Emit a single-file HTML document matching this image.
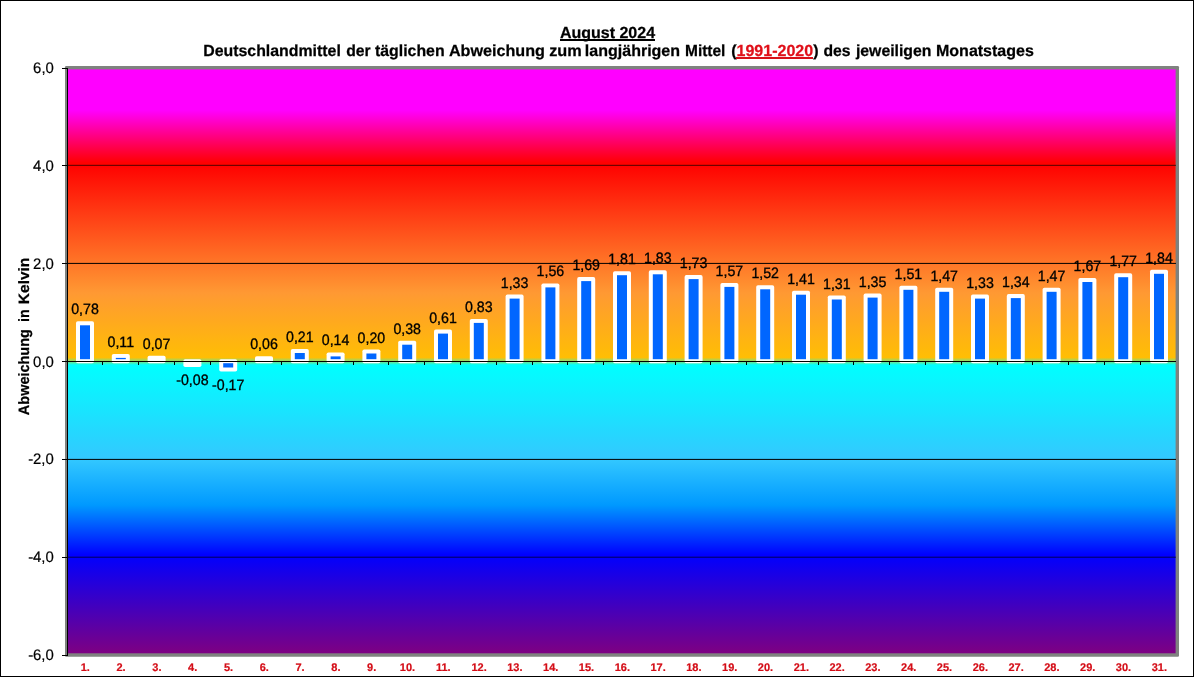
<!DOCTYPE html>
<html lang="de"><head><meta charset="utf-8"><title>August 2024</title>
<style>html,body{margin:0;padding:0;background:#fff;overflow:hidden}svg{display:block;font-family:"Liberation Sans",Arial,sans-serif;text-rendering:geometricPrecision}</style>
</head><body>
<svg width="1194" height="677" viewBox="0 0 1194 677">
<defs><linearGradient id="bg" gradientUnits="userSpaceOnUse" x1="0" y1="68" x2="0" y2="655">
<stop offset="0.0000" stop-color="#ff00ff"/>
<stop offset="0.0716" stop-color="#ff00ff"/>
<stop offset="0.1618" stop-color="#ff0000"/>
<stop offset="0.3833" stop-color="#ff9933"/>
<stop offset="0.4932" stop-color="#ffbe04"/>
<stop offset="0.5000" stop-color="#80e080"/>
<stop offset="0.5060" stop-color="#00ffff"/>
<stop offset="0.6661" stop-color="#33c8ff"/>
<stop offset="0.7445" stop-color="#0099ff"/>
<stop offset="0.8296" stop-color="#0000ff"/>
<stop offset="1.0000" stop-color="#800080"/>
</linearGradient></defs>
<rect x="0" y="0" width="1194" height="677" fill="#fff"/>
<rect x="65" y="66" width="1114" height="590.7" rx="1.2" fill="#7f827f"/>
<rect x="67" y="69.4" width="1108.6" height="583.9" fill="url(#bg)"/>
<rect x="68" y="165" width="1108" height="1" fill="#000" fill-opacity="0.56"/>
<rect x="68" y="164" width="1108" height="1" fill="#000" fill-opacity="0.12"/>
<rect x="68" y="263" width="1108" height="1" fill="#000" fill-opacity="0.9"/>
<rect x="68" y="262" width="1108" height="1" fill="#000" fill-opacity="0.1"/>
<rect x="68" y="459" width="1108" height="1" fill="#000" fill-opacity="0.9"/>
<rect x="68" y="458" width="1108" height="1" fill="#000" fill-opacity="0.1"/>
<rect x="68" y="557" width="1108" height="1" fill="#000" fill-opacity="0.45"/>
<rect x="68" y="556" width="1108" height="1" fill="#000" fill-opacity="0.2"/>
<rect x="76.0" y="321.3" width="18" height="41.9" rx="1.8" fill="#fff"/>
<rect x="80.0" y="325.3" width="10" height="33.9" fill="#0066ff"/>
<rect x="111.8" y="353.9" width="18" height="9.3" rx="1.8" fill="#fff"/>
<rect x="115.8" y="357.9" width="10" height="1.3" fill="#0066ff"/>
<rect x="147.6" y="355.8" width="18" height="7.4" rx="1.8" fill="#fff"/>
<rect x="183.4" y="359.2" width="18" height="7.9" rx="1.8" fill="#fff"/>
<rect x="219.2" y="359.2" width="18" height="12.3" rx="1.8" fill="#fff"/>
<rect x="223.2" y="363.2" width="10" height="4.3" fill="#0066ff"/>
<rect x="255.0" y="356.3" width="18" height="6.9" rx="1.8" fill="#fff"/>
<rect x="290.8" y="349.0" width="18" height="14.2" rx="1.8" fill="#fff"/>
<rect x="294.8" y="353.0" width="10" height="6.2" fill="#0066ff"/>
<rect x="326.6" y="352.4" width="18" height="10.8" rx="1.8" fill="#fff"/>
<rect x="330.6" y="356.4" width="10" height="2.8" fill="#0066ff"/>
<rect x="362.4" y="349.5" width="18" height="13.7" rx="1.8" fill="#fff"/>
<rect x="366.4" y="353.5" width="10" height="5.7" fill="#0066ff"/>
<rect x="398.2" y="340.7" width="18" height="22.5" rx="1.8" fill="#fff"/>
<rect x="402.2" y="344.7" width="10" height="14.5" fill="#0066ff"/>
<rect x="434.0" y="329.6" width="18" height="33.6" rx="1.8" fill="#fff"/>
<rect x="438.0" y="333.6" width="10" height="25.6" fill="#0066ff"/>
<rect x="469.8" y="318.9" width="18" height="44.3" rx="1.8" fill="#fff"/>
<rect x="473.8" y="322.9" width="10" height="36.3" fill="#0066ff"/>
<rect x="505.6" y="294.6" width="18" height="68.6" rx="1.8" fill="#fff"/>
<rect x="509.6" y="298.6" width="10" height="60.6" fill="#0066ff"/>
<rect x="541.4" y="283.4" width="18" height="79.8" rx="1.8" fill="#fff"/>
<rect x="545.4" y="287.4" width="10" height="71.8" fill="#0066ff"/>
<rect x="577.2" y="277.1" width="18" height="86.1" rx="1.8" fill="#fff"/>
<rect x="581.2" y="281.1" width="10" height="78.1" fill="#0066ff"/>
<rect x="613.0" y="271.2" width="18" height="92.0" rx="1.8" fill="#fff"/>
<rect x="617.0" y="275.2" width="10" height="84.0" fill="#0066ff"/>
<rect x="648.8" y="270.3" width="18" height="92.9" rx="1.8" fill="#fff"/>
<rect x="652.8" y="274.3" width="10" height="84.9" fill="#0066ff"/>
<rect x="684.6" y="275.1" width="18" height="88.1" rx="1.8" fill="#fff"/>
<rect x="688.6" y="279.1" width="10" height="80.1" fill="#0066ff"/>
<rect x="720.4" y="282.9" width="18" height="80.3" rx="1.8" fill="#fff"/>
<rect x="724.4" y="286.9" width="10" height="72.3" fill="#0066ff"/>
<rect x="756.2" y="285.3" width="18" height="77.9" rx="1.8" fill="#fff"/>
<rect x="760.2" y="289.3" width="10" height="69.9" fill="#0066ff"/>
<rect x="792.0" y="290.7" width="18" height="72.5" rx="1.8" fill="#fff"/>
<rect x="796.0" y="294.7" width="10" height="64.5" fill="#0066ff"/>
<rect x="827.8" y="295.5" width="18" height="67.7" rx="1.8" fill="#fff"/>
<rect x="831.8" y="299.5" width="10" height="59.7" fill="#0066ff"/>
<rect x="863.6" y="293.6" width="18" height="69.6" rx="1.8" fill="#fff"/>
<rect x="867.6" y="297.6" width="10" height="61.6" fill="#0066ff"/>
<rect x="899.4" y="285.8" width="18" height="77.4" rx="1.8" fill="#fff"/>
<rect x="903.4" y="289.8" width="10" height="69.4" fill="#0066ff"/>
<rect x="935.2" y="287.8" width="18" height="75.4" rx="1.8" fill="#fff"/>
<rect x="939.2" y="291.8" width="10" height="67.4" fill="#0066ff"/>
<rect x="971.0" y="294.6" width="18" height="68.6" rx="1.8" fill="#fff"/>
<rect x="975.0" y="298.6" width="10" height="60.6" fill="#0066ff"/>
<rect x="1006.8" y="294.1" width="18" height="69.1" rx="1.8" fill="#fff"/>
<rect x="1010.8" y="298.1" width="10" height="61.1" fill="#0066ff"/>
<rect x="1042.6" y="287.8" width="18" height="75.4" rx="1.8" fill="#fff"/>
<rect x="1046.6" y="291.8" width="10" height="67.4" fill="#0066ff"/>
<rect x="1078.4" y="278.0" width="18" height="85.2" rx="1.8" fill="#fff"/>
<rect x="1082.4" y="282.0" width="10" height="77.2" fill="#0066ff"/>
<rect x="1114.2" y="273.2" width="18" height="90.0" rx="1.8" fill="#fff"/>
<rect x="1118.2" y="277.2" width="10" height="82.0" fill="#0066ff"/>
<rect x="1150.0" y="269.8" width="18" height="93.4" rx="1.8" fill="#fff"/>
<rect x="1154.0" y="273.8" width="10" height="85.4" fill="#0066ff"/>
<rect x="67" y="68" width="1" height="588" fill="#000"/>
<rect x="62" y="361.0" width="1114" height="1" fill="#000"/>
<rect x="62" y="68" width="5" height="1" fill="#000"/>
<rect x="62" y="165" width="5" height="1" fill="#000"/>
<rect x="62" y="263" width="5" height="1" fill="#000"/>
<rect x="62" y="459" width="5" height="1" fill="#000"/>
<rect x="62" y="557" width="5" height="1" fill="#000"/>
<rect x="62" y="655" width="5" height="1" fill="#000"/>
<rect x="102" y="362.0" width="1" height="3" fill="#000"/>
<rect x="138" y="362.0" width="1" height="3" fill="#000"/>
<rect x="174" y="362.0" width="1" height="3" fill="#000"/>
<rect x="210" y="362.0" width="1" height="3" fill="#000"/>
<rect x="245" y="362.0" width="1" height="3" fill="#000"/>
<rect x="281" y="362.0" width="1" height="3" fill="#000"/>
<rect x="317" y="362.0" width="1" height="3" fill="#000"/>
<rect x="353" y="362.0" width="1" height="3" fill="#000"/>
<rect x="388" y="362.0" width="1" height="3" fill="#000"/>
<rect x="424" y="362.0" width="1" height="3" fill="#000"/>
<rect x="460" y="362.0" width="1" height="3" fill="#000"/>
<rect x="496" y="362.0" width="1" height="3" fill="#000"/>
<rect x="532" y="362.0" width="1" height="3" fill="#000"/>
<rect x="567" y="362.0" width="1" height="3" fill="#000"/>
<rect x="603" y="362.0" width="1" height="3" fill="#000"/>
<rect x="639" y="362.0" width="1" height="3" fill="#000"/>
<rect x="675" y="362.0" width="1" height="3" fill="#000"/>
<rect x="710" y="362.0" width="1" height="3" fill="#000"/>
<rect x="746" y="362.0" width="1" height="3" fill="#000"/>
<rect x="782" y="362.0" width="1" height="3" fill="#000"/>
<rect x="818" y="362.0" width="1" height="3" fill="#000"/>
<rect x="853" y="362.0" width="1" height="3" fill="#000"/>
<rect x="889" y="362.0" width="1" height="3" fill="#000"/>
<rect x="925" y="362.0" width="1" height="3" fill="#000"/>
<rect x="961" y="362.0" width="1" height="3" fill="#000"/>
<rect x="997" y="362.0" width="1" height="3" fill="#000"/>
<rect x="1032" y="362.0" width="1" height="3" fill="#000"/>
<rect x="1068" y="362.0" width="1" height="3" fill="#000"/>
<rect x="1104" y="362.0" width="1" height="3" fill="#000"/>
<rect x="1140" y="362.0" width="1" height="3" fill="#000"/>
<g font-size="14.9" fill="#000" stroke="#000" stroke-width="0.2" text-anchor="end">
<text transform="translate(53.8,73.0) scale(1,1.02)">6,0</text>
<text transform="translate(53.8,171.0) scale(1,1.02)">4,0</text>
<text transform="translate(53.8,269.0) scale(1,1.02)">2,0</text>
<text transform="translate(53.8,367.0) scale(1,1.02)">0,0</text>
<text transform="translate(53.8,464.0) scale(1,1.02)">-2,0</text>
<text transform="translate(53.8,562.0) scale(1,1.02)">-4,0</text>
<text transform="translate(53.8,660.0) scale(1,1.02)">-6,0</text>
</g>
<g font-size="11" font-weight="bold" fill="#d40c16" stroke="#d40c16" stroke-width="0.2" text-anchor="middle">
<text x="85.3" y="671">1.</text>
<text x="121.1" y="671">2.</text>
<text x="156.9" y="671">3.</text>
<text x="192.7" y="671">4.</text>
<text x="228.5" y="671">5.</text>
<text x="264.3" y="671">6.</text>
<text x="300.1" y="671">7.</text>
<text x="335.9" y="671">8.</text>
<text x="371.7" y="671">9.</text>
<text x="407.5" y="671">10.</text>
<text x="443.3" y="671">11.</text>
<text x="479.1" y="671">12.</text>
<text x="514.9" y="671">13.</text>
<text x="550.7" y="671">14.</text>
<text x="586.5" y="671">15.</text>
<text x="622.3" y="671">16.</text>
<text x="658.1" y="671">17.</text>
<text x="693.9" y="671">18.</text>
<text x="729.7" y="671">19.</text>
<text x="765.5" y="671">20.</text>
<text x="801.3" y="671">21.</text>
<text x="837.1" y="671">22.</text>
<text x="872.9" y="671">23.</text>
<text x="908.7" y="671">24.</text>
<text x="944.5" y="671">25.</text>
<text x="980.3" y="671">26.</text>
<text x="1016.1" y="671">27.</text>
<text x="1051.9" y="671">28.</text>
<text x="1087.7" y="671">29.</text>
<text x="1123.5" y="671">30.</text>
<text x="1159.3" y="671">31.</text>
</g>
<g font-size="14.2" fill="#000" stroke="#000" stroke-width="0.3" text-anchor="middle">
<text transform="translate(85.0,314.3) scale(1,1.06)">0,78</text>
<text transform="translate(120.8,346.9) scale(1,1.06)">0,11</text>
<text transform="translate(156.6,348.8) scale(1,1.06)">0,07</text>
<text transform="translate(192.4,385.1) scale(1,1.06)">-0,08</text>
<text transform="translate(228.2,389.5) scale(1,1.06)">-0,17</text>
<text transform="translate(264.0,349.3) scale(1,1.06)">0,06</text>
<text transform="translate(299.8,342.0) scale(1,1.06)">0,21</text>
<text transform="translate(335.6,345.4) scale(1,1.06)">0,14</text>
<text transform="translate(371.4,342.5) scale(1,1.06)">0,20</text>
<text transform="translate(407.2,333.7) scale(1,1.06)">0,38</text>
<text transform="translate(443.0,322.6) scale(1,1.06)">0,61</text>
<text transform="translate(478.8,311.9) scale(1,1.06)">0,83</text>
<text transform="translate(514.6,287.6) scale(1,1.06)">1,33</text>
<text transform="translate(550.4,276.4) scale(1,1.06)">1,56</text>
<text transform="translate(586.2,270.1) scale(1,1.06)">1,69</text>
<text transform="translate(622.0,264.2) scale(1,1.06)">1,81</text>
<text transform="translate(657.8,263.3) scale(1,1.06)">1,83</text>
<text transform="translate(693.6,268.1) scale(1,1.06)">1,73</text>
<text transform="translate(729.4,275.9) scale(1,1.06)">1,57</text>
<text transform="translate(765.2,278.3) scale(1,1.06)">1,52</text>
<text transform="translate(801.0,283.7) scale(1,1.06)">1,41</text>
<text transform="translate(836.8,288.5) scale(1,1.06)">1,31</text>
<text transform="translate(872.6,286.6) scale(1,1.06)">1,35</text>
<text transform="translate(908.4,278.8) scale(1,1.06)">1,51</text>
<text transform="translate(944.2,280.8) scale(1,1.06)">1,47</text>
<text transform="translate(980.0,287.6) scale(1,1.06)">1,33</text>
<text transform="translate(1015.8,287.1) scale(1,1.06)">1,34</text>
<text transform="translate(1051.6,280.8) scale(1,1.06)">1,47</text>
<text transform="translate(1087.4,271.0) scale(1,1.06)">1,67</text>
<text transform="translate(1123.2,266.2) scale(1,1.06)">1,77</text>
<text transform="translate(1159.0,262.8) scale(1,1.06)">1,84</text>
</g>
<g font-size="16" font-weight="bold" fill="#000" stroke="#000" stroke-width="0.25">
<text x="607.5" y="37.5" text-anchor="middle">August 2024</text>
<text transform="translate(203.19,55.5) scale(0.9926,1)">Deutschlandmittel </text>
<text transform="translate(346.25,55.5) scale(0.9817,1)">der </text>
<text transform="translate(374.97,55.5) scale(0.9913,1)">täglichen </text>
<text transform="translate(448.91,55.5) scale(1.0096,1)">Abweichung </text>
<text transform="translate(549.19,55.5) scale(1.018,1)">zum </text>
<text transform="translate(584.85,55.5) scale(1.0009,1)">langjährigen </text>
<text transform="translate(685.02,55.5) scale(0.967,1)">Mittel </text>
<text transform="translate(731.13,55.5) scale(1.0026,1)">(<tspan fill="#e0101a" stroke="#e0101a">1991-2020</tspan>) </text>
<text transform="translate(823.51,55.5) scale(0.9814,1)">des </text>
<text transform="translate(855.93,55.5) scale(0.9876,1)">jeweiligen </text>
<text transform="translate(936.0,55.5) scale(1.0,1)">Monatstages</text>
</g>
<rect x="560" y="39" width="95" height="2" fill="#000"/>
<rect x="736" y="57" width="77" height="2" fill="#d81018"/>
<g font-size="15" font-weight="bold" fill="#000" stroke="#000" stroke-width="0.25">
<text transform="translate(29,414.6) rotate(-90) scale(0.964,1)" x="-0.57" y="0">Abweichung</text>
<text transform="translate(29,321.1) rotate(-90) scale(0.955,1)" x="-1.06" y="0">in</text>
<text transform="translate(29,303.1) rotate(-90) scale(1.031,1)" x="-1.0" y="0">Kelvin</text>
</g>
<rect x="0.5" y="0.5" width="1193" height="676" fill="none" stroke="#000" stroke-width="1"/>
</svg>
</body></html>
